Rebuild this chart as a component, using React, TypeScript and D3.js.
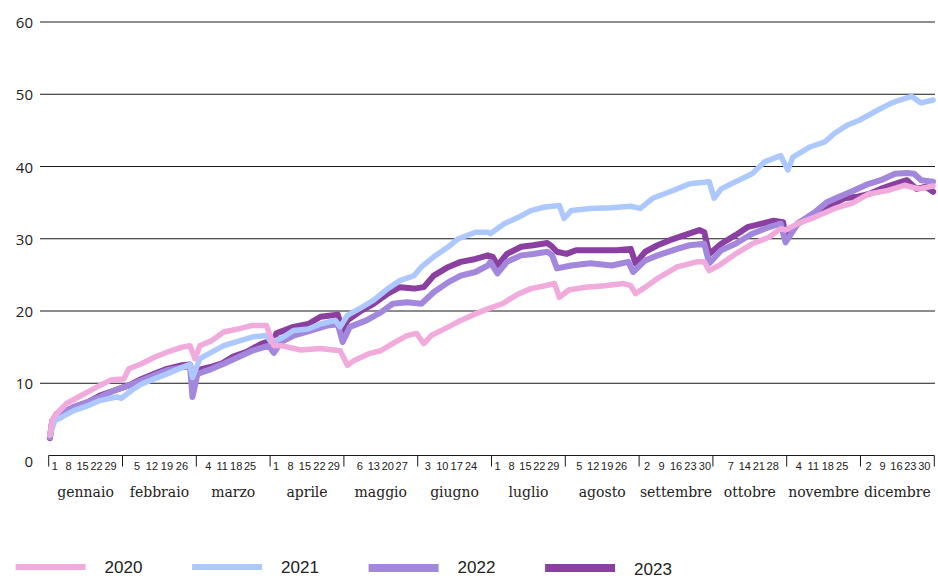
import React from "react";
import * as d3 from "d3";

const W = 938;
const H = 579;

const monthNames = ["gennaio", "febbraio", "marzo", "aprile", "maggio", "giugno", "luglio", "agosto", "settembre", "ottobre", "novembre", "dicembre"];
const daysInMonth = [31, 29, 31, 30, 31, 30, 31, 31, 30, 31, 30, 31];
const weekLabels = [
  [1, 8, 15, 22, 29], [5, 12, 19, 26], [4, 11, 18, 25], [1, 8, 15, 22, 29],
  [6, 13, 20, 27], [3, 10, 17, 24], [1, 8, 15, 22, 29], [5, 12, 19, 26],
  [2, 9, 16, 23, 30], [7, 14, 21, 28], [4, 11, 18, 25], [2, 9, 16, 23, 30],
];
const yTicks = [0, 10, 20, 30, 40, 50, 60];
const seriesNames = ["2020", "2021", "2022", "2023"];

const s2020: [string, number][] = [
  ["01-01", 2.8], ["01-02", 5.0], ["01-05", 6.2], ["01-08", 7.2], ["01-13", 8.1], ["01-17", 8.8], ["01-22", 9.7], ["01-27", 10.5],
  ["02-01", 10.6], ["02-03", 12.0], ["02-08", 12.7], ["02-13", 13.6], ["02-18", 14.3], ["02-24", 15.0], ["02-27", 15.2], ["02-29", 13.4],
  ["03-02", 15.2], ["03-07", 15.9], ["03-12", 17.1], ["03-18", 17.5], ["03-24", 18.0], ["03-30", 18.0],
  ["04-02", 15.2], ["04-05", 15.2], ["04-13", 14.6], ["04-21", 14.8], ["04-29", 14.5],
  ["05-02", 12.5], ["05-05", 13.2], ["05-11", 14.1], ["05-16", 14.5], ["05-22", 15.7], ["05-27", 16.6], ["05-31", 16.9],
  ["06-03", 15.5], ["06-06", 16.6], ["06-13", 17.8], ["06-18", 18.7], ["06-24", 19.6], ["06-29", 20.3],
  ["07-05", 21.0], ["07-12", 22.4], ["07-17", 23.1], ["07-23", 23.5], ["07-27", 23.8], ["07-29", 21.9],
  ["08-02", 22.9], ["08-09", 23.3], ["08-17", 23.5], ["08-25", 23.8], ["08-28", 23.5], ["08-30", 22.4],
  ["09-03", 23.3], ["09-08", 24.5], ["09-16", 26.1], ["09-24", 26.8], ["09-27", 26.8], ["09-29", 25.6],
  ["10-03", 26.3], ["10-10", 27.9], ["10-17", 29.3], ["10-24", 30.2], ["10-29", 31.4], ["10-31", 31.2],
  ["11-05", 32.1], ["11-12", 33.0], ["11-20", 34.2], ["11-27", 34.9],
  ["12-04", 36.2], ["12-12", 36.7], ["12-19", 37.4], ["12-25", 36.9], ["12-31", 37.3],
];

const s2021: [string, number][] = [
  ["01-01", 2.8], ["01-03", 4.8], ["01-06", 5.3], ["01-11", 6.2], ["01-17", 6.9], ["01-22", 7.6], ["01-29", 8.1], ["01-31", 7.9],
  ["02-04", 9.0], ["02-08", 9.9], ["02-13", 10.6], ["02-18", 11.3], ["02-24", 12.2], ["02-27", 12.6], ["02-28", 10.8],
  ["03-02", 13.4], ["03-07", 14.3], ["03-12", 15.2], ["03-19", 15.9], ["03-24", 16.4], ["03-30", 16.6],
  ["04-01", 15.7], ["04-05", 16.2], ["04-10", 17.3], ["04-16", 17.5], ["04-21", 18.2], ["04-27", 18.7], ["04-29", 17.8],
  ["05-02", 19.4], ["05-08", 20.5], ["05-13", 21.5], ["05-19", 23.1], ["05-24", 24.2], ["05-30", 24.9],
  ["06-02", 26.1], ["06-07", 27.5], ["06-13", 28.9], ["06-17", 30.0], ["06-24", 30.9], ["06-29", 30.9], ["06-30", 30.7],
  ["07-06", 32.1], ["07-12", 33.0], ["07-17", 33.9], ["07-23", 34.4], ["07-29", 34.6], ["07-31", 32.8],
  ["08-03", 33.9], ["08-11", 34.2], ["08-20", 34.3], ["08-28", 34.5],
  ["09-01", 34.2], ["09-06", 35.6], ["09-13", 36.5], ["09-21", 37.6], ["09-29", 37.9],
  ["10-01", 35.6], ["10-04", 36.9], ["10-10", 37.9], ["10-17", 39.0], ["10-22", 40.6], ["10-29", 41.5],
  ["11-01", 39.5], ["11-03", 41.3], ["11-10", 42.7], ["11-16", 43.4], ["11-20", 44.6], ["11-25", 45.7], ["11-30", 46.4],
  ["12-06", 47.5], ["12-13", 48.7], ["12-17", 49.2], ["12-22", 49.7], ["12-26", 48.8], ["12-31", 49.2],
];

const s2022: [string, number][] = [
  ["01-01", 2.5], ["01-02", 4.8], ["01-06", 5.8], ["01-11", 6.7], ["01-17", 7.4], ["01-22", 8.1], ["01-28", 9.0],
  ["02-03", 9.7], ["02-08", 10.4], ["02-13", 11.1], ["02-18", 11.8], ["02-24", 12.2], ["02-27", 12.5], ["02-28", 8.1],
  ["03-01", 11.3], ["03-07", 12.0], ["03-12", 12.7], ["03-18", 13.6], ["03-24", 14.5], ["03-29", 15.0], ["03-31", 15.2],
  ["04-02", 14.2], ["04-05", 15.7], ["04-10", 16.6], ["04-17", 17.3], ["04-24", 18.0], ["04-28", 18.2], ["04-30", 15.7],
  ["05-03", 17.8], ["05-10", 18.7], ["05-16", 19.8], ["05-21", 21.0], ["05-27", 21.2],
  ["06-02", 21.0], ["06-07", 22.6], ["06-13", 24.0], ["06-18", 24.9], ["06-24", 25.4], ["06-29", 26.3], ["06-30", 26.8],
  ["07-03", 25.2], ["07-07", 26.8], ["07-13", 27.7], ["07-18", 27.9], ["07-24", 28.2], ["07-26", 27.7], ["07-28", 25.9],
  ["08-03", 26.3], ["08-11", 26.6], ["08-20", 26.3], ["08-27", 26.8], ["08-29", 25.4],
  ["09-03", 27.0], ["09-08", 27.7], ["09-16", 28.6], ["09-21", 29.1], ["09-27", 29.3], ["09-29", 26.6],
  ["10-04", 28.4], ["10-10", 29.3], ["10-17", 30.7], ["10-24", 31.6], ["10-29", 32.1], ["10-31", 29.5],
  ["11-05", 32.1], ["11-12", 33.7], ["11-17", 35.1], ["11-23", 36.0], ["11-28", 36.7],
  ["12-04", 37.6], ["12-09", 38.1], ["12-15", 39.0], ["12-20", 39.1], ["12-23", 39.0], ["12-26", 38.1], ["12-31", 37.9],
];

const s2023: [string, number][] = [
  ["01-01", 2.4], ["01-02", 4.8], ["01-04", 5.8], ["01-08", 6.2], ["01-11", 6.7], ["01-17", 7.4], ["01-22", 8.3], ["01-28", 9.0],
  ["02-03", 9.7], ["02-08", 10.6], ["02-13", 11.3], ["02-18", 12.0], ["02-24", 12.5], ["02-27", 12.6], ["02-28", 11.0],
  ["03-01", 11.8], ["03-07", 12.3], ["03-11", 12.7], ["03-16", 13.7], ["03-22", 14.4], ["03-28", 15.5], ["03-31", 15.8],
  ["04-01", 14.8], ["04-03", 16.9], ["04-10", 17.8], ["04-16", 18.2], ["04-21", 19.2], ["04-28", 19.5], ["04-30", 17.3],
  ["05-02", 18.7], ["05-08", 20.1], ["05-13", 21.0], ["05-19", 22.4], ["05-24", 23.3], ["05-30", 23.1],
  ["06-03", 23.3], ["06-07", 24.9], ["06-13", 26.1], ["06-18", 26.8], ["06-24", 27.2], ["06-29", 27.7],
  ["07-01", 27.5], ["07-03", 26.3], ["07-07", 27.9], ["07-13", 28.9], ["07-18", 29.1], ["07-24", 29.4], ["07-26", 28.9], ["07-28", 28.2],
  ["08-01", 27.9], ["08-05", 28.4], ["08-14", 28.4], ["08-22", 28.4], ["08-28", 28.6], ["08-30", 26.6],
  ["09-03", 28.2], ["09-08", 29.1], ["09-13", 29.8], ["09-19", 30.5], ["09-25", 31.2], ["09-27", 30.9], ["09-29", 27.9],
  ["10-04", 29.3], ["10-10", 30.5], ["10-15", 31.6], ["10-21", 32.1], ["10-26", 32.5], ["10-30", 32.3], ["10-31", 29.8],
  ["11-05", 32.1], ["11-12", 33.5], ["11-17", 34.4], ["11-24", 35.6], ["11-29", 35.8],
  ["12-04", 36.2], ["12-09", 36.9], ["12-15", 37.6], ["12-20", 38.1], ["12-24", 36.9], ["12-28", 37.2], ["12-31", 36.5],
];

const seriesData = [s2020, s2021, s2022, s2023];
const seriesColors = ["#F0AADC", "#ADC8FF", "#A387DC", "#8B3FA0"];
const seriesWidths = [5.5, 5.5, 6, 6];

const plotLeft = 48.7;
const plotRight = 934.3;
const yTop = 22;
const yZero = 455.5;

export default function App() {
  const x = d3.scaleLinear().domain([0, 12]).range([plotLeft, plotRight]);
  const y = d3.scaleLinear().domain([0, 60]).range([yZero, yTop]);
  const bandW = (plotRight - plotLeft) / 12;

  const dateX = (s: string) => {
    const [m, d] = s.split("-").map(Number);
    return x(m - 1 + (d - 0.5) / daysInMonth[m - 1]);
  };
  const line = d3
    .line<[string, number]>()
    .x((p) => dateX(p[0]))
    .y((p) => y(p[1]));

  const dayX = (mi: number, d: number) =>
    x(mi) + 6 + ((d - 1) / (daysInMonth[mi] - 1)) * (bandW - 14);

  const drawOrder = [3, 2, 1, 0];

  return (
    <div style={{ position: "absolute", left: 0, top: 0 }}>
      <svg width={W} height={H} style={{ display: "block", background: "#fff" }}>
        {yTicks.filter((t) => t > 0).map((t) => (
          <line key={t} x1={40} x2={935} y1={y(t)} y2={y(t)} stroke="#1a1a1a" strokeWidth={1} />
        ))}
        {yTicks.map((t) => (
          <text
            key={"yl" + t}
            x={33}
            y={t === 0 ? y(t) + 5 : y(t)}
            textAnchor="end"
            dominantBaseline="central"
            fontFamily="'Open Sans', 'Noto Sans', sans-serif"
            fontSize={15}
            fill="#222"
          >
            {t}
          </text>
        ))}
        <line x1={plotLeft} x2={plotRight} y1={yZero} y2={yZero} stroke="#1a1a1a" strokeWidth={1} />
        {d3.range(13).map((i) => (
          <line key={"t" + i} x1={x(i)} x2={x(i)} y1={yZero} y2={yZero + 11} stroke="#1a1a1a" strokeWidth={1} />
        ))}
        {weekLabels.map((days, mi) =>
          days.map((d) => (
            <text
              key={"d" + mi + "-" + d}
              x={dayX(mi, d)}
              y={469.5}
              textAnchor="middle"
              fontFamily="'Liberation Sans Narrow', 'Liberation Sans', sans-serif"
              fontSize={11}
              fill="#222"
            >
              {d}
            </text>
          ))
        )}
        {monthNames.map((mn, i) => (
          <text
            key={mn}
            x={x(i + 0.5)}
            y={497}
            textAnchor="middle"
            fontFamily="'DejaVu Serif', serif"
            fontSize={14}
            fill="#222"
          >
            {mn}
          </text>
        ))}
        {drawOrder.map((i) => (
          <path
            key={seriesNames[i]}
            d={line(seriesData[i]) || ""}
            fill="none"
            stroke={seriesColors[i]}
            strokeWidth={seriesWidths[i]}
            strokeLinejoin="round"
            strokeLinecap="round"
          />
        ))}
        {seriesNames.map((n, i) => {
          const lx = 15.6 + i * 176.5;
          return (
            <g key={"lg" + n}>
              <rect x={lx} y={564} width={70} height={i < 2 ? 6 : 8} fill={seriesColors[i]} />
              <text
                x={lx + 89}
                y={567.5 + (i === 3 ? 2 : 0)}
                dominantBaseline="central"
                fontFamily="'Liberation Sans Narrow', 'Liberation Sans', sans-serif"
                fontSize={17}
                fill="#222"
              >
                {n}
              </text>
            </g>
          );
        })}
      </svg>
    </div>
  );
}
